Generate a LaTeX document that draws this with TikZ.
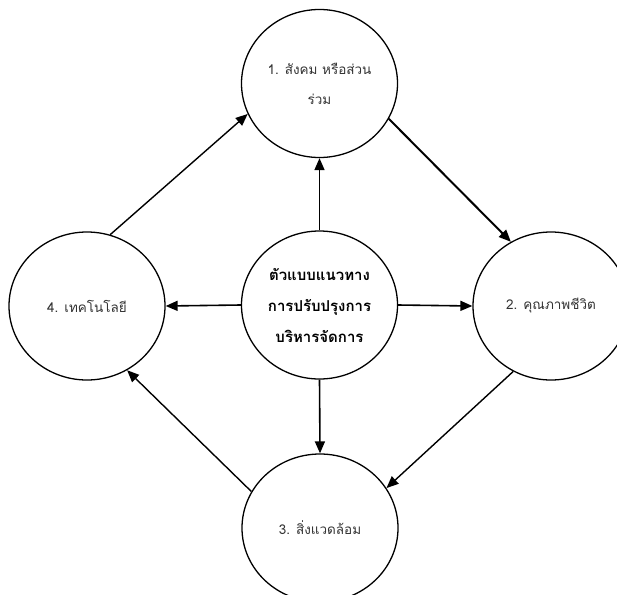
\documentclass[tikz,border=0pt]{standalone}
\usepackage{fontspec}
\newfontfamily\thaifont[Script=Thai]{Loma}
\usetikzlibrary{shapes.geometric,arrows.meta}
\begin{document}
\begin{tikzpicture}[x=1pt,y=-1pt,
  bub/.style={ellipse,draw,line width=1.3pt,minimum width=156pt,minimum height=148pt,inner sep=0pt,
    font=\thaifont\fontsize{13.5}{30}\selectfont,align=center,text=black!80},
  arr/.style={line width=1.6pt,-{Triangle[length=12pt,width=10pt]}},
  thin arr/.style={line width=1.4pt,-{Triangle[length=12pt,width=10pt]}}]
\useasboundingbox (0,0) rectangle (617,594);
\begin{scope}
\clip (0,0) rectangle (617,594);
\node[bub,font=\thaifont\bfseries\fontsize{15}{31}\selectfont,text=black] (c) at (319.5,305) {ตัวแบบแนวทาง\\การปรับปรุงการ\\บริหารจัดการ};
\node[bub] (t) at (319.5,83.5) {1. สังคม หรือส่วน\\ร่วม};
\node[bub] (r) at (551,306) {2. คุณภาพชีวิต};
\node[bub] (b) at (320,528) {3. สิ่งแวดล้อม};
\node[bub] (l) at (87,306) {4. เทคโนโลยี};
\end{scope}
\draw[arr] (c.north) -- (t.south);
\draw[arr] (c.west) -- (l.east);
\draw[arr] (c.east) -- (r.west);
\draw[arr] (c.south) -- (b.north);
\draw[thin arr] (l.72) -- (t.203);
\draw[arr,line width=2pt] (t.-27) -- (r.122);
\draw[thin arr] (r.240) -- (b.31.5);
\draw[thin arr] (b.152.5) -- (l.302);
\end{tikzpicture}
\end{document}
